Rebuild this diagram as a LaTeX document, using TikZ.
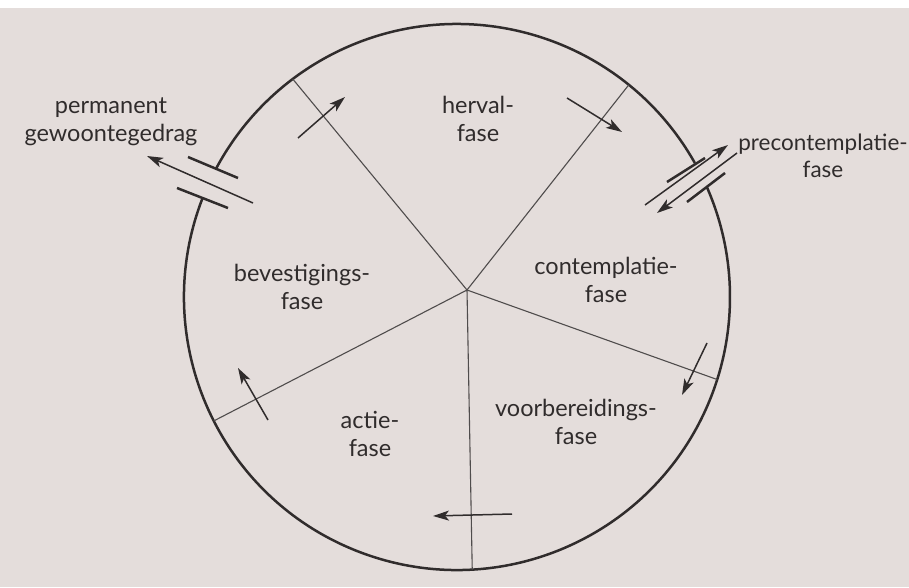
\documentclass[tikz,border=0pt]{standalone}
\usepackage{fontspec}
\setmainfont{Lato}
\usetikzlibrary{arrows.meta}
\definecolor{paper}{RGB}{228,221,219}
\definecolor{ink}{RGB}{48,44,44}
\begin{document}
\begin{tikzpicture}[x=1pt,y=1pt,
  rim/.style={ink, line width=2.5pt},
  spoke/.style={ink!85, line width=1.1pt},
  flow/.style={ink, line width=1.5pt, -{Stealth[length=16pt,width=10pt,inset=4pt]}},
  post/.style={ink, line width=2.5pt},
  lbl/.style={text=ink, font=\fontsize{23.5}{28}\selectfont, align=center, inner sep=0pt}]
\useasboundingbox (0,0) rectangle (909,587);
\fill[paper] (0,0) rectangle (909,587);
\fill[white] (0,579) rectangle (909,587);
% circle centre and hub
\coordinate (C) at (457,290);
\coordinate (H) at (467,297);
% rim with two doorways
\draw[rim] ([shift={(29.4:273)}]C) arc[start angle=29.4, end angle=151.95, radius=273];
\draw[rim] ([shift={(158.8:273)}]C) arc[start angle=158.8, end angle=383.7, radius=273];
% spokes
\coordinate (e1) at ([shift={(127:273)}]C);
\coordinate (e2) at ([shift={(51:273)}]C);
\coordinate (e3) at ([shift={(-17.6:273)}]C);
\coordinate (e4) at ([shift={(-86.8:273)}]C);
\coordinate (e5) at ([shift={(207:273)}]C);
\foreach \e in {e1,e2,e3,e4,e5} \draw[spoke] (H) -- (\e);
% circulating arrows
\coordinate (a1t) at (298,449); \coordinate (a1h) at (345,490);
\coordinate (a2t) at (567,489); \coordinate (a2h) at (622,455);
\coordinate (a3t) at (707,244); \coordinate (a3h) at (682,192);
\coordinate (a4t) at (512,73);  \coordinate (a4h) at (433,71);
\coordinate (a5t) at (268,167); \coordinate (a5h) at (238,219);
\draw[flow] (a1t) -- (a1h);
\draw[flow] (a2t) -- (a2h);
\draw[flow] (a3t) -- (a3h);
\draw[flow] (a4t) -- (a4h);
\draw[flow] (a5t) -- (a5h);
% left doorway
\coordinate (lu1) at (188,430); \coordinate (lu2) at (238,409);
\coordinate (ll1) at (177,399); \coordinate (ll2) at (228,379);
\coordinate (lat) at (253,384); \coordinate (lah) at (147,431);
\draw[post] (lu1) -- (lu2);
\draw[post] (ll1) -- (ll2);
\draw[flow] (lat) -- (lah);
% right doorway
\coordinate (ru1) at (667,405); \coordinate (ru2) at (705,429);
\coordinate (rl1) at (687,385); \coordinate (rl2) at (725,414);
\coordinate (rot) at (645,382); \coordinate (roh) at (728,442);
\coordinate (rit) at (737,434); \coordinate (rih) at (657,374);
\draw[post] (ru1) -- (ru2);
\draw[post] (rl1) -- (rl2);
\draw[flow] (rot) -- (roh);
\draw[flow] (rit) -- (rih);
% labels
\node[lbl] (perm) at (111,465) {permanent\\gewoontegedrag};
\node[lbl] (herval) at (478,468) {herval-\\fase};
\node[lbl, font=\fontsize{22.5}{27}\selectfont] (precon) at (823,431) {precontemplatie-\\fase};
\node[lbl] (bevest) at (302,300) {bevestigings-\\fase};
\node[lbl] (contem) at (606,307) {contemplatie-\\fase};
\node[lbl] (actie) at (370,153) {actie-\\fase};
\node[lbl] (voorb) at (576,165) {voorbereidings-\\fase};
\end{tikzpicture}
\end{document}
